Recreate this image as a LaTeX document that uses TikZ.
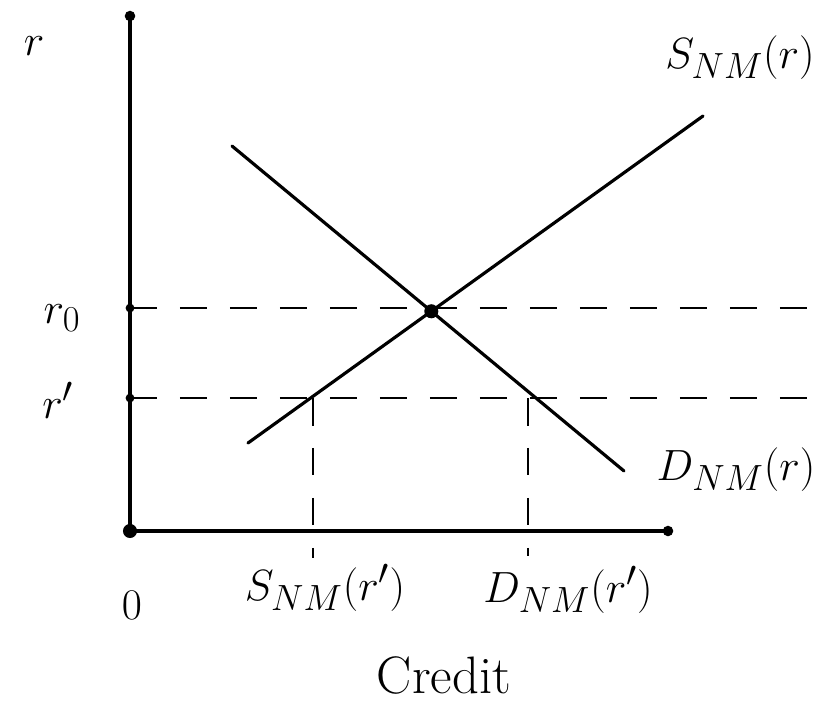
\documentclass[tikz,border=0pt]{standalone}
\usepackage{amsmath}
\usetikzlibrary{positioning,calc,intersections}

\begin{document}
\begin{tikzpicture}[
  x=0.02cm, y=-0.02cm,
  axis/.style={line width=2.4pt, line cap=round},
  curve/.style={line width=1.8pt, line cap=round},
  guide/.style={line width=1.6pt, dash pattern=on 0.55cm off 0.45cm},
  lbl/.style={font=\fontsize{30}{34}\selectfont, inner sep=0pt},
  pt/.style={circle, fill=black, inner sep=0pt, minimum size=6pt}
]
% Scale: 1 unit = 1 pixel of the sketch, y grows downwards
\useasboundingbox (0,0) rectangle (829,711);
\def\yzero{308}  % level of r_0
\def\yone{398}   % level of r'

% Axes
\coordinate (O) at (130,531);
\coordinate (ytop) at (130,16);
\coordinate (xend) at (668,531);
\draw[axis] (ytop) -- (O) -- (xend);
\node[pt] (dotTop) at (ytop) {};
\node[pt, minimum size=8pt] (dotO) at (O) {};
\node[pt] (dotEnd) at (xend) {};

% Supply and demand
\coordinate (sLo) at (248,443);
\coordinate (sHi) at (703,116);
\coordinate (dHi) at (232,146);
\coordinate (dLo) at (624,471);
\draw[curve, name path=supply] (sLo) -- (sHi);
\draw[curve, name path=demand] (dHi) -- (dLo);
\path[name intersections={of=supply and demand, by=E}];
\node[pt, minimum size=8pt] (eq) at (E) {};

% Price levels
\coordinate (r0) at (130,\yzero);
\coordinate (r0end) at (829,\yzero);
\coordinate (r1) at (130,\yone);
\coordinate (r1end) at (829,\yone);
\draw[guide] (r0) -- (r0end);
\draw[guide] (r1) -- (r1end);
\node[pt, minimum size=5pt] (dotR0) at (r0) {};
\node[pt, minimum size=5pt] (dotR1) at (r1) {};

% Quantities at r'
\coordinate (A) at (313,\yone);
\coordinate (B) at (528,\yone);
\coordinate (Afoot) at (A |- 0,558);
\coordinate (Bfoot) at (B |- 0,556);
\draw[guide] (A) -- (Afoot);
\draw[guide] (B) -- (Bfoot);

% Labels
\node[lbl, font=\fontsize{42}{46}\selectfont] (rlab) at (34,46) {$r$};
\node[lbl] (r0lab) at (62,318) {$r_0$};
\node[lbl] (r1lab) at (58,400) {$r'$};
\node[lbl] (Slab) at (740,58) {$S_{NM}(r)$};
\node[lbl] (Dlab) at (736,470) {$D_{NM}(r)$};
\node[lbl] (S1lab) at (325,588) {$S_{NM}(r')$};
\node[lbl] (D1lab) at (568,590) {$D_{NM}(r')$};
\node[lbl] (zero) at (132,605) {$0$};
\node[lbl] (credit) at (444,675) {Credit};
\end{tikzpicture}
\end{document}
